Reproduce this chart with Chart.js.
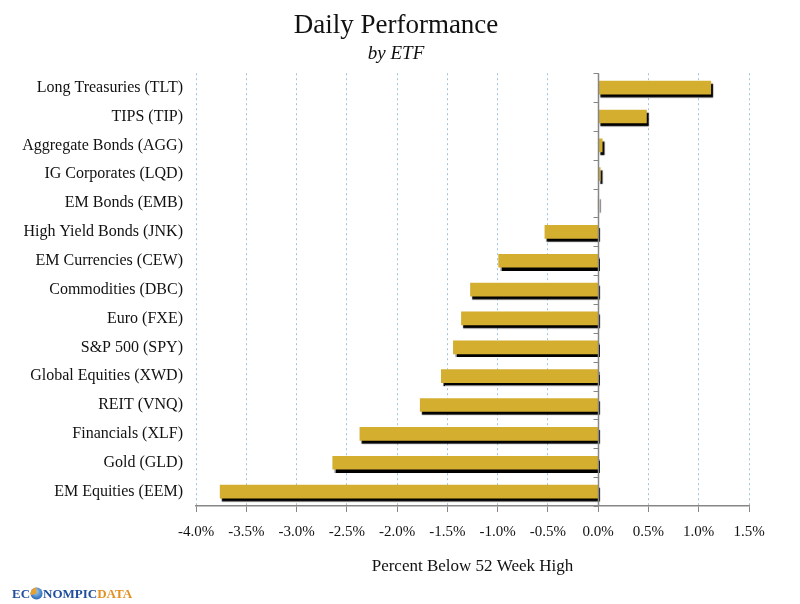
<!DOCTYPE html>
<html>
<head>
<meta charset="utf-8">
<script src="https://cdn.jsdelivr.net/npm/chart.js@4/dist/chart.umd.min.js"></script>
<style>
  html, body { margin: 0; padding: 0; background: #fff; }
  #wrap { width: 800px; height: 604px; position: relative; }
</style>
</head>
<body>
<div id="wrap"><canvas id="myChart"></canvas></div>
<script>
const etfs = [
  'Long Treasuries (TLT)', 'TIPS (TIP)', 'Aggregate Bonds (AGG)', 'IG Corporates (LQD)',
  'EM Bonds (EMB)', 'High Yield Bonds (JNK)', 'EM Currencies (CEW)', 'Commodities (DBC)',
  'Euro (FXE)', 'S&P 500 (SPY)', 'Global Equities (XWD)', 'REIT (VNQ)',
  'Financials (XLF)', 'Gold (GLD)', 'EM Equities (EEM)'
]
const changes = [1.12, 0.48, 0.04, 0.02, 0.0, -0.53, -0.99, -1.27, -1.36, -1.44, -1.56, -1.77, -2.37, -2.64, -3.76]
const xTicks = [-4.0, -3.5, -3.0, -2.5, -2.0, -1.5, -1.0, -0.5, 0.0, 0.5, 1.0, 1.5]

Chart.defaults.font.family = "'Liberation Serif', 'DejaVu Serif', serif";
Chart.defaults.color = '#111';

// black drop shadow under every bar
const shadowPlugin = {
  id: 'barShadow',
  beforeDatasetsDraw(chart) {
    const c = chart.ctx;
    c.save();
    c.shadowColor = '#000';
    c.shadowOffsetX = 2;
    c.shadowOffsetY = 3;
    c.shadowBlur = 1;
  },
  afterDatasetsDraw(chart) {
    chart.ctx.restore();
  }
};

// vertical axis at zero with little ticks between the categories
const zeroAxis = {
  id: 'zeroAxis',
  afterDatasetsDraw(chart) {
    const {ctx, chartArea, scales: {x}} = chart;
    const x0 = Math.round(x.getPixelForValue(0)) + 0.5;
    ctx.save();
    ctx.strokeStyle = '#868686';
    ctx.lineWidth = 1.5;
    ctx.beginPath();
    ctx.moveTo(x0, chartArea.top);
    ctx.lineTo(x0, chartArea.bottom);
    ctx.stroke();
    ctx.lineWidth = 1;
    const step = (chartArea.bottom - chartArea.top) / etfs.length;
    for (let i = 0; i <= etfs.length; i++) {
      const yy = Math.round(chartArea.top + i * step) + 0.5;
      ctx.beginPath();
      ctx.moveTo(x0 - 5, yy);
      ctx.lineTo(x0, yy);
      ctx.stroke();
    }
    ctx.restore();
  }
};

const logo = {
  id: 'logo',
  afterDraw(chart) {
    const ctx = chart.ctx;
    ctx.save();
    ctx.font = "bold 13px 'Liberation Serif', serif";
    let px = 12;
    const py = 598;
    ctx.fillStyle = '#1f4e9c';
    ctx.fillText('EC', px, py);
    px += ctx.measureText('EC').width + 1;
    // little globe in place of the O
    const g = ctx.createRadialGradient(px + 4, py - 7, 1, px + 6, py - 5, 7);
    g.addColorStop(0, '#9fd0f5');
    g.addColorStop(1, '#1f5fb0');
    ctx.fillStyle = g;
    ctx.beginPath();
    ctx.arc(px + 5.5, py - 4.5, 6, 0, Math.PI * 2);
    ctx.fill();
    ctx.fillStyle = '#e8a030';
    ctx.beginPath();
    ctx.arc(px + 5.5, py - 4.5, 6, Math.PI * 0.9, Math.PI * 1.5);
    ctx.lineTo(px + 5.5, py - 4.5);
    ctx.fill();
    px += 12;
    ctx.fillStyle = '#1f4e9c';
    ctx.fillText('NOMPIC', px, py);
    px += ctx.measureText('NOMPIC').width;
    ctx.fillStyle = '#e39020';
    ctx.fillText('DATA', px, py);
    ctx.restore();
  }
};

const config = {
  type: 'bar',
  data: {
    labels: etfs,
    datasets: [{
      data: changes,
      backgroundColor: '#d4ae2f',
      borderWidth: 0,
      barThickness: 13
    }]
  },
  options: {
    indexAxis: 'y',
    responsive: true,
    maintainAspectRatio: false,
    animation: false,
    layout: { padding: { left: 10, right: 18, top: 0, bottom: 27 } },
    scales: {
      x: {
        min: -4,
        max: 1.5,
        afterBuildTicks: (scale) => { scale.ticks = xTicks.map(v => ({ value: v })) },
        afterFit: (scale) => { scale.height = 71; scale.paddingRight = 51 },
        ticks: {
          padding: 11,
          font: { size: 15 },
          color: '#111',
          callback: (v) => Number(v).toFixed(1) + '%'
        },
        grid: {
          color: (c) => (c.tick && c.tick.value === 0) ? 'rgba(0,0,0,0)' : '#9cc4e0',
          lineWidth: 1,
          tickLength: 6,
          tickColor: '#868686'
        },
        border: { display: true, color: '#868686', width: 1.5, dash: [2, 3] },
        title: {
          display: true,
          text: 'Percent Below 52 Week High',
          font: { size: 17 },
          color: '#111',
          padding: 0
        }
      },
      y: {
        afterFit: (scale) => { scale.width = 186 },
        grid: { display: false },
        border: { display: false },
        ticks: { padding: 5, font: { size: 16 }, color: '#111' }
      }
    },
    plugins: {
      legend: { display: false },
      tooltip: { enabled: false },
      title: {
        display: true,
        text: 'Daily Performance',
        font: { size: 27, weight: 'normal' },
        color: '#111',
        padding: { top: 10, bottom: 0 }
      },
      subtitle: {
        display: true,
        text: 'by ETF',
        font: { size: 19, style: 'italic' },
        color: '#111',
        padding: { top: 0, bottom: 8 }
      }
    }
  },
  plugins: [shadowPlugin, zeroAxis, logo]
};

const myChart = new Chart(document.getElementById('myChart'), config);
</script>
</body>
</html>
